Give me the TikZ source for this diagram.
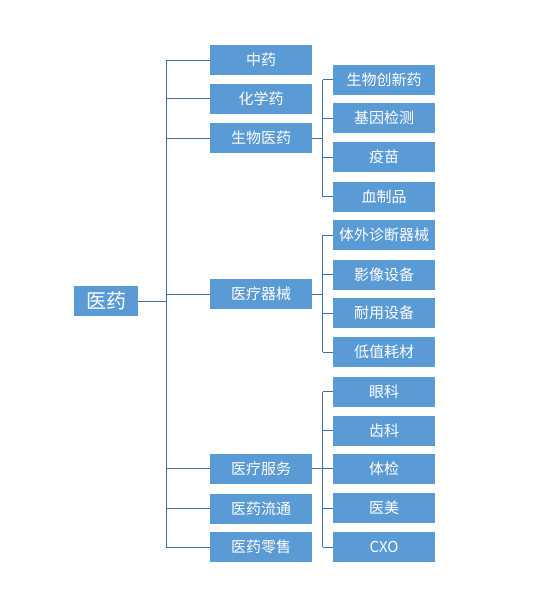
\documentclass[tikz,border=0pt]{standalone}
\usepackage{fontspec}
\newfontfamily\cjk{Noto Sans CJK SC}
\definecolor{boxblue}{HTML}{5B9BD5}
\definecolor{linecol}{HTML}{41719C}
\tikzset{
  box/.style={fill=boxblue, text=white, minimum width=102pt, minimum height=30pt, inner sep=0pt, font=\cjk\fontsize{15}{15}\selectfont},
  rootbox/.style={box, minimum width=64pt, font=\cjk\fontsize{20}{20}\selectfont},
  conn/.style={draw=linecol, line width=0.9pt}
}
\begin{document}
\begin{tikzpicture}[x=1pt,y=-1pt]
\useasboundingbox (0,0) rectangle (539,605);
% root
\node[rootbox] (root) at (106,301) {医药};
% level 1
\node[box] (a1) at (261,60) {中药};
\node[box] (a2) at (261,98.5) {化学药};
\node[box] (a3) at (261,138) {生物医药};
\node[box] (a4) at (261,294) {医疗器械};
\node[box] (a5) at (261,468.5) {医疗服务};
\node[box] (a6) at (261,508.5) {医药流通};
\node[box] (a7) at (261,547) {医药零售};
% level 2
\node[box] (b1) at (384,79.5) {生物创新药};
\node[box] (b2) at (384,118) {基因检测};
\node[box] (b3) at (384,157) {疫苗};
\node[box] (b4) at (384,196.5) {血制品};
\node[box] (c1) at (384,235) {体外诊断器械};
\node[box] (c2) at (384,274.5) {影像设备};
\node[box] (c3) at (384,313) {耐用设备};
\node[box] (c4) at (384,352) {低值耗材};
\node[box] (d1) at (384,391.5) {眼科};
\node[box] (d2) at (384,430.5) {齿科};
\node[box] (d3) at (384,468.5) {体检};
\node[box] (d4) at (384,508) {医美};
\node[box] (d5) at (384,547) {CXO};
% junctions
\coordinate (j0) at (166,301);
\coordinate (jb) at (322.5,138);
\coordinate (jc) at (322.5,294);
\coordinate (jd) at (322.5,468.5);
% root connectors
\draw[conn] (root.east) -- (j0);
\draw[conn] (j0 |- a1.west) -- (j0 |- a7.west);
\foreach \n in {a1,a2,a3,a4,a5,a6,a7}
  \draw[conn] (j0 |- \n.west) -- (\n.west);
% group b
\draw[conn] (a3.east) -- (jb);
\draw[conn] (jb |- b1.west) -- (jb |- b4.west);
\foreach \n in {b1,b2,b3,b4}
  \draw[conn] (jb |- \n.west) -- (\n.west);
% group c
\draw[conn] (a4.east) -- (jc);
\draw[conn] (jc |- c1.west) -- (jc |- c4.west);
\foreach \n in {c1,c2,c3,c4}
  \draw[conn] (jc |- \n.west) -- (\n.west);
% group d
\draw[conn] (a5.east) -- (jd);
\draw[conn] (jd |- d1.west) -- (jd |- d5.west);
\foreach \n in {d1,d2,d3,d4,d5}
  \draw[conn] (jd |- \n.west) -- (\n.west);
\end{tikzpicture}
\end{document}
